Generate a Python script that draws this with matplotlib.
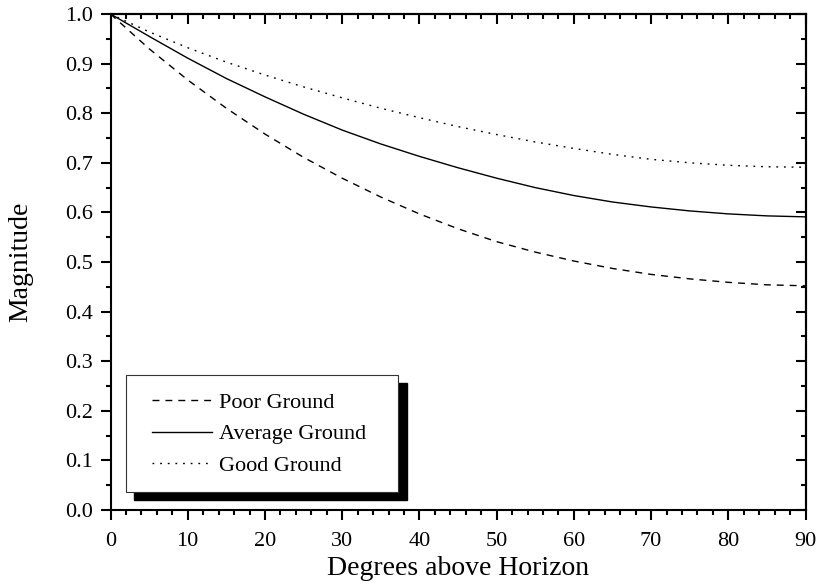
import matplotlib
matplotlib.use("Agg")
import matplotlib.pyplot as plt
from matplotlib.patches import Rectangle
from matplotlib.ticker import MultipleLocator
from matplotlib.lines import Line2D

degrees = [0, 5, 10, 15, 20, 25, 30, 35, 40, 45, 50, 55, 60, 65, 70, 75, 80, 85, 90]
poor_ground = [1.0, 0.930, 0.867, 0.810, 0.758, 0.711, 0.669, 0.631, 0.597, 0.567,
               0.541, 0.520, 0.502, 0.487, 0.475, 0.466, 0.459, 0.454, 0.452]
average_ground = [1.0, 0.955, 0.911, 0.870, 0.833, 0.798, 0.766, 0.738, 0.713, 0.690,
                  0.669, 0.650, 0.634, 0.621, 0.611, 0.603, 0.597, 0.593, 0.591]
good_ground = [1.0, 0.964, 0.932, 0.903, 0.877, 0.853, 0.831, 0.810, 0.791, 0.773,
               0.757, 0.742, 0.729, 0.717, 0.707, 0.700, 0.695, 0.692, 0.691]
labels = ["Poor Ground", "Average Ground", "Good Ground"]
xticks = [0, 10, 20, 30, 40, 50, 60, 70, 80, 90]
yticks = [0.0, 0.1, 0.2, 0.3, 0.4, 0.5, 0.6, 0.7, 0.8, 0.9, 1.0]

plt.rcParams['font.family'] = ['Liberation Serif', 'DejaVu Serif']

W, H = 821, 588
fig = plt.figure(figsize=(W / 100, H / 100), dpi=100)
L, R, T, B = 110.5, 805.5, 14, 510
ax = fig.add_axes([L / W, 1 - B / H, (R - L) / W, (B - T) / H])

dash_style = (0, (5, 4.3))
dot_style = (0, (1.3, 4.2))
ax.plot(degrees, poor_ground, color='black', lw=1.0, linestyle=dash_style)
ax.plot(degrees, average_ground, color='black', lw=1.0, linestyle='-')
ax.plot(degrees, good_ground, color='black', lw=1.0, linestyle=dot_style)

ax.set_xlim(0, 90)
ax.set_ylim(0, 1.0)
ax.set_xticks(xticks)
ax.set_yticks(yticks)
ax.set_yticklabels([f"{v:.1f}" for v in yticks])
ax.xaxis.set_minor_locator(MultipleLocator(2))
ax.yaxis.set_minor_locator(MultipleLocator(0.05))
for s in ax.spines.values():
    s.set_linewidth(1.5)
ax.tick_params(which='major', direction='out', length=7.2, width=1.5, labelsize=16)
ax.tick_params(which='minor', direction='out', length=3.6, width=1.5)
ax.tick_params(axis='x', which='major', pad=8.5)
ax.tick_params(axis='y', which='major', pad=5.5)

sx = ax.secondary_xaxis('top')
sx.set_xticks(xticks)
sx.xaxis.set_minor_locator(MultipleLocator(2))
sx.tick_params(which='major', direction='in', length=7.2, width=1.5, labeltop=False)
sx.tick_params(which='minor', direction='in', length=3.6, width=1.5)
sx.spines['top'].set_linewidth(1.5)
sy = ax.secondary_yaxis('right')
sy.set_yticks(yticks)
sy.yaxis.set_minor_locator(MultipleLocator(0.05))
sy.tick_params(which='major', direction='in', length=7.2, width=1.5, labelright=False)
sy.tick_params(which='minor', direction='in', length=3.6, width=1.5)
sy.spines['right'].set_linewidth(1.5)

ax.set_xlabel("Degrees above Horizon", fontsize=20, labelpad=4)
ax.set_ylabel("Magnitude", fontsize=20, labelpad=23)

# legend box with shadow (pixel positions converted to axes fraction)
def ax_frac(px, py):
    return ((px - L) / (R - L), (B - py) / (B - T))

x0, y0 = ax_frac(134, 500)
x1, y1 = ax_frac(407, 383)
ax.add_patch(Rectangle((x0, y0), x1 - x0, y1 - y0, transform=ax.transAxes,
                       facecolor='black', edgecolor='black', zorder=5, clip_on=False))
x0, y0 = ax_frac(126, 492)
x1, y1 = ax_frac(398, 375)
ax.add_patch(Rectangle((x0, y0), x1 - x0, y1 - y0, transform=ax.transAxes,
                       facecolor='white', edgecolor='#333333', lw=0.8, zorder=6, clip_on=False))

handles = [Line2D([], [], color='black', lw=1.0, linestyle=dash_style),
           Line2D([], [], color='black', lw=1.0, linestyle='-'),
           Line2D([], [], color='black', lw=1.0, linestyle=dot_style)]
lx, ly = ax_frac(152, 434)
leg = ax.legend(handles, labels, loc='center left', bbox_to_anchor=(lx, ly),
                frameon=False, fontsize=16, handlelength=2.7, handletextpad=0.3,
                borderpad=0, borderaxespad=0, labelspacing=0.49)
leg.set_zorder(7)

fig.savefig("out.png", dpi=100)
